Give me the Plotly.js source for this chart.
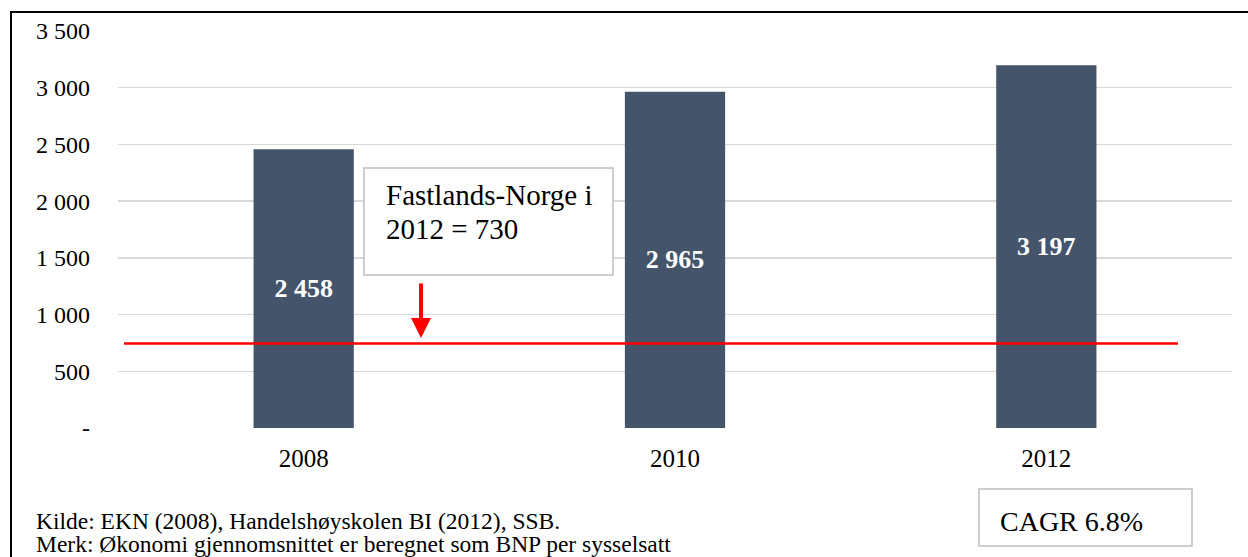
<!DOCTYPE html>
<html>
<head>
<meta charset="utf-8">
<script src="https://cdn.plot.ly/plotly-3.0.1.min.js"></script>
<style>
  body { margin: 0; background: #fff; }
  #wrap { position: relative; width: 1248px; height: 557px; overflow: hidden; }
  #chart { width: 1248px; height: 557px; }
  #frame { position: absolute; left: 10px; top: 11px; width: 1300px; height: 600px;
           border-left: 2px solid #000; border-top: 2px solid #000; pointer-events: none; }
</style>
</head>
<body>
<div id="wrap">
  <div id="chart"></div>
  <div id="frame"></div>
</div>
<script>
var years = ['2008', '2010', '2012'];
var values = [2458, 2965, 3197];
var valueLabels = ['2 458', '2 965', '3 197'];
var fastlandsNorge = 745; // line drawn at ~745 in the source, labelled 730
var yTickVals = [0, 500, 1000, 1500, 2000, 2500, 3000, 3500];
var yTickText = ['-', '500', '1 000', '1 500', '2 000', '2 500', '3 000', '3 500'];

var serif = 'Times New Roman, Liberation Serif, serif';

var bars = {
  x: years,
  y: values,
  text: valueLabels,
  type: 'bar',
  width: 0.27,
  marker: { color: '#44546A' },
  texttemplate: '<b>%{text}</b>',
  textposition: 'inside',
  insidetextanchor: 'middle',
  textfont: { family: serif, size: 26, color: '#fff' },
  hoverinfo: 'x+y'
};

function txt(x, y, s, size) {
  return {
    xref: 'paper', yref: 'paper', x: x, y: y,
    xanchor: 'left', yanchor: 'middle', align: 'left',
    text: s, showarrow: false,
    font: { family: serif, size: size, color: '#000' }
  };
}

var layout = {
  width: 1248,
  height: 557,
  margin: { l: 118, r: 16, t: 31, b: 129 },
  plot_bgcolor: '#fff',
  paper_bgcolor: '#fff',
  showlegend: false,
  font: { family: serif, size: 24, color: '#000' },
  xaxis: {
    type: 'category',
    showgrid: false,
    zeroline: false,
    showline: false,
    ticks: '',
    ticklabelstandoff: 13,
    tickfont: { family: serif, size: 25 }
  },
  yaxis: {
    range: [0, 3500],
    tickvals: yTickVals,
    ticktext: yTickText,
    showgrid: true,
    gridcolor: '#d9d9d9',
    gridwidth: 1.5,
    zeroline: false,
    ticks: '',
    ticklabelstandoff: 27,
    tickfont: { family: serif, size: 24 }
  },
  shapes: [
    { // Fastlands-Norge line
      type: 'line', xref: 'paper', yref: 'y',
      x0: 0.0054, x1: 0.9515, y0: fastlandsNorge, y1: fastlandsNorge,
      line: { color: '#ff0000', width: 2.5 }
    },
    { // text box
      type: 'rect', xref: 'paper', yref: 'paper',
      x0: 0.2208, x1: 0.4443, y0: 0.3854, y1: 0.6549,
      fillcolor: '#fff', line: { color: '#bfbfbf', width: 1.5 }, layer: 'above'
    },
    { // CAGR box
      type: 'rect', xref: 'paper', yref: 'paper',
      x0: 0.7729, x1: 0.9641, y0: -0.2972, y1: -0.1537,
      fillcolor: '#fff', line: { color: '#bfbfbf', width: 1.5 }
    }
  ],
  annotations: [
    txt(0.2388, 0.5869, 'Fastlands-Norge i', 29),
    txt(0.2388, 0.5013, '2012 = 730', 29),
    { // arrow
      xref: 'paper', yref: 'paper', x: 0.272, y: 0.2267,
      ax: 0, ay: -56, text: '', showarrow: true,
      arrowcolor: '#ff0000', arrowwidth: 4, arrowhead: 2, arrowsize: 1
    },
    txt(0.790, -0.2343, 'CAGR 6.8%', 28),
    txt(-0.0754, -0.2343, 'Kilde: EKN (2008), Handelshøyskolen BI (2012), SSB.', 23.5),
    txt(-0.0754, -0.2922, 'Merk: Økonomi gjennomsnittet er beregnet som BNP per sysselsatt', 23.5)
  ]
};

Plotly.newPlot('chart', [bars], layout, { displayModeBar: false, staticPlot: true });
</script>
</body>
</html>
